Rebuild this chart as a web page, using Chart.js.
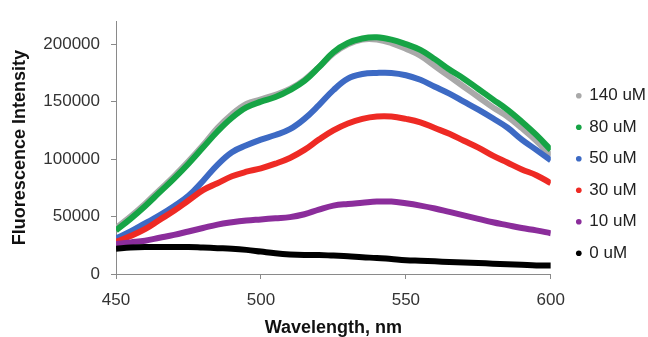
<!DOCTYPE html>
<html>
<head>
<meta charset="utf-8">
<script src="https://cdn.jsdelivr.net/npm/chart.js@4"></script>
<style>
  html, body { margin: 0; padding: 0; background: #fff; overflow: hidden; }
  #wrap { position: relative; width: 656px; height: 337px; }
</style>
</head>
<body>
<div id="wrap"><canvas id="spectra-chart"></canvas></div>
<script>
const wavelengths = [450, 455, 460, 465, 470, 475, 480, 485, 490, 495, 500, 505, 510, 515, 520, 525,
                     530, 535, 540, 545, 550, 555, 560, 565, 570, 575, 580, 585, 590, 595, 600];

const uM140 = [40000, 50000, 61000, 73000, 85000, 98000, 112000, 127000, 139000, 148000, 152000, 156000, 161000, 169000, 180000, 192000,
               200000, 204000, 204000, 201000, 196000, 190000, 181000, 172000, 163000, 154000, 145000, 137000, 127000, 116000, 103000];
const uM80 = [38000, 48000, 59000, 71000, 83000, 96000, 110000, 124000, 136000, 145000, 150000, 154000, 160000, 168000, 180000, 193000,
              201000, 205000, 206000, 204000, 200000, 195000, 187000, 178000, 170000, 161000, 152000, 143000, 132500, 121000, 108000];
const uM50 = [31000, 37000, 44000, 51000, 59000, 68000, 81000, 95000, 106000, 112000, 117000, 121000, 126000, 135000, 147000, 160000,
              170000, 174000, 175000, 175000, 173000, 169000, 163000, 157000, 150000, 143000, 135500, 127500, 117000, 108000, 99000];
const uM30 = [28000, 33000, 39000, 47000, 55000, 64000, 73000, 79000, 85000, 89000, 92000, 96000, 101000, 108000, 117000, 125000,
              131000, 135000, 137000, 137000, 135000, 132000, 127000, 122000, 116000, 110000, 103000, 97000, 91000, 86000, 79000];
const uM10 = [26000, 27500, 29000, 31500, 34000, 37000, 40000, 43000, 45000, 46500, 47500, 48500, 49500, 52000, 56000, 59500,
              61000, 62000, 63000, 63000, 61500, 59500, 57000, 54000, 51000, 48000, 45000, 42500, 40000, 38000, 35500];
const uM0 = [22000, 23000, 23500, 23500, 23500, 23500, 23000, 22500, 22000, 21000, 19500, 18000, 17000, 16500, 16500, 16000,
             15500, 14500, 14000, 13000, 12000, 11500, 11000, 10500, 10000, 9500, 9000, 8500, 8000, 7500, 7500];

const seriesLabels = ['140 uM', '80 uM', '50 uM', '30 uM', '10 uM', '0 uM'];
const seriesValues = [uM140, uM80, uM50, uM30, uM10, uM0];
const seriesColors = ['#a9a9a9', '#16a445', '#3d6ac4', '#ee2a24', '#8b2d9b', '#000000'];

const yTicks = [0, 50000, 100000, 150000, 200000];
const xTicks = [450, 500, 550, 600];

const FONT = "'Liberation Sans', Arial, sans-serif";
const AXIS_GRAY = '#8a8a8a';

const datasets = seriesLabels.map((label, i) => ({
    label: label,
    data: seriesValues[i].map((v, j) => ({ x: wavelengths[j], y: v })),
    borderColor: seriesColors[i],
    backgroundColor: seriesColors[i],
    borderWidth: 6,
    pointRadius: 0,
    tension: 0.4,
    order: -i   // later series drawn on top, like the original
}));

const ctx = document.getElementById('spectra-chart').getContext('2d');
const spectraChart = new Chart(ctx, {
    type: 'line',
    data: { datasets: datasets },
    options: {
        responsive: true,
        maintainAspectRatio: false,
        animation: false,
        devicePixelRatio: 1,
        layout: { padding: { top: 12, left: 0, right: 0, bottom: 0 } },
        plugins: {
            tooltip: { enabled: false },
            legend: {
                position: 'right',
                labels: {
                    usePointStyle: true,
                    pointStyle: 'circle',
                    boxWidth: 4,
                    boxHeight: 4,
                    padding: 14.5,
                    color: '#222',
                    font: { family: FONT, size: 17 },
                    sort: (a, b) => a.datasetIndex - b.datasetIndex,
                    generateLabels: (chart) =>
                        Chart.defaults.plugins.legend.labels.generateLabels(chart)
                            .map(item => ({ ...item, lineWidth: 0 }))
                }
            }
        },
        scales: {
            x: {
                type: 'linear',
                min: 450,
                max: 600,
                afterBuildTicks: (scale) => { scale.ticks = xTicks.map(v => ({ value: v })); },
                afterFit: (scale) => { scale.height = 63; },
                grid: { display: true, drawOnChartArea: false, drawTicks: true, tickLength: 5, color: AXIS_GRAY },
                border: { display: true, color: AXIS_GRAY, width: 1 },
                ticks: { color: '#333', padding: 11, maxRotation: 0, font: { family: FONT, size: 17 } },
                title: {
                    display: true,
                    text: 'Wavelength, nm',
                    color: '#111',
                    font: { family: FONT, size: 18, weight: 'bold' },
                    padding: { top: 0, bottom: -2 }
                }
            },
            y: {
                min: 0,
                max: 220000,
                afterBuildTicks: (scale) => { scale.ticks = yTicks.map(v => ({ value: v })); },
                afterFit: (scale) => { scale.width = 116; },
                grid: { display: true, drawOnChartArea: false, drawTicks: true, tickLength: 5, color: AXIS_GRAY },
                border: { display: true, color: AXIS_GRAY, width: 1 },
                ticks: {
                    color: '#333',
                    padding: 11,
                    font: { family: FONT, size: 17 },
                    callback: (v) => String(v)
                },
                title: {
                    display: true,
                    text: 'Fluorescence Intensity',
                    color: '#111',
                    font: { family: FONT, size: 18, weight: 'bold' },
                    padding: { top: 9, bottom: 12 }
                }
            },
            // empty spacer between plot and legend
            gap: {
                type: 'linear',
                position: 'right',
                display: true,
                grid: { display: false },
                border: { display: false },
                ticks: { display: false },
                afterFit: (scale) => { scale.width = 11.5; }
            }
        }
    }
});
</script>
</body>
</html>
